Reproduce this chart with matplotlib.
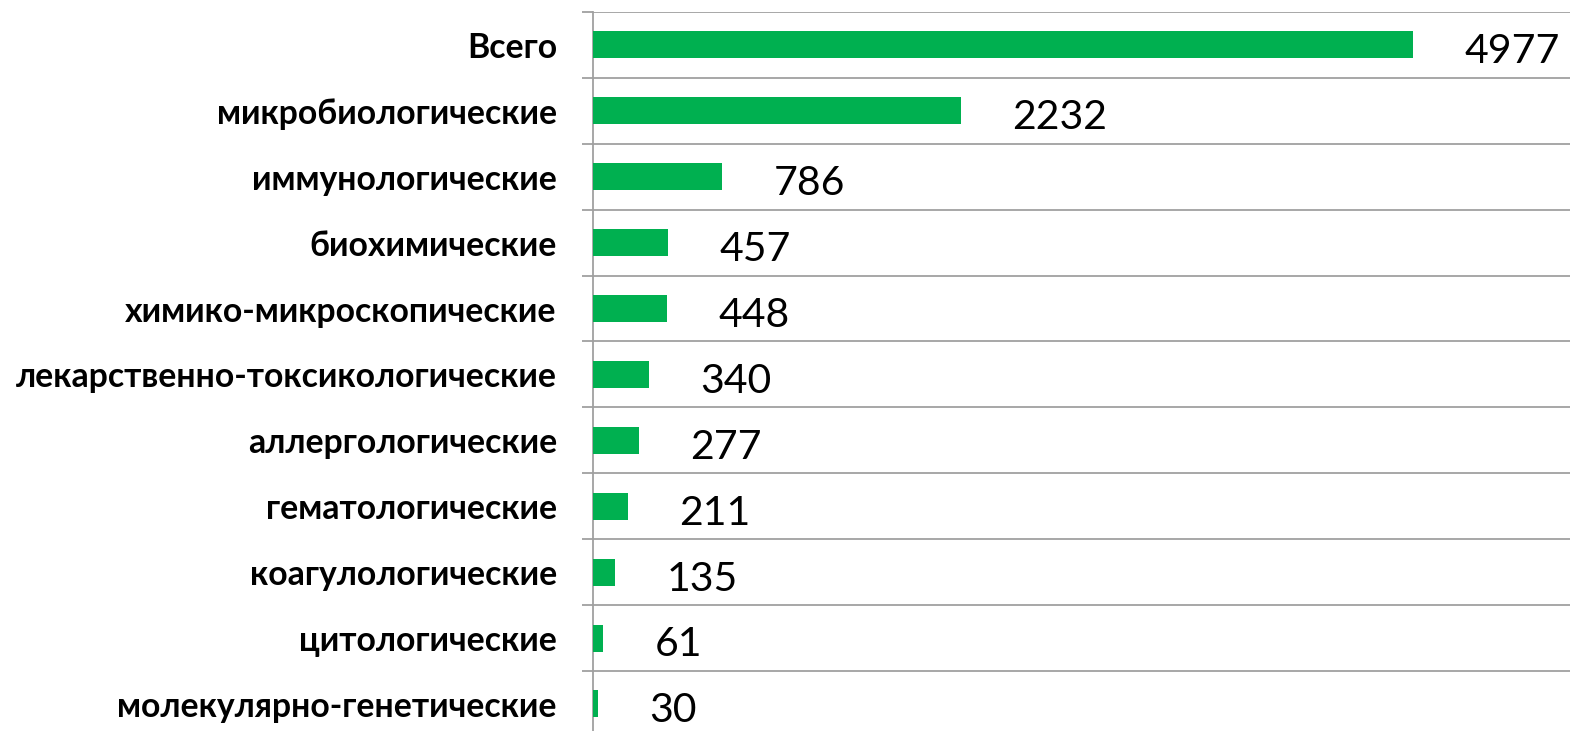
import matplotlib
matplotlib.use("Agg")
import matplotlib.pyplot as plt
import numpy as np

categories = ["Всего", "микробиологические", "иммунологические", "биохимические",
              "химико-микроскопические", "лекарственно-токсикологические",
              "аллергологические", "гематологические", "коагулологические",
              "цитологические", "молекулярно-генетические"]
values = [4977, 2232, 786, 457, 448, 340, 277, 211, 135, 61, 30]

plt.rcParams['font.family'] = ['Lato', 'DejaVu Sans']

W, H = 1570, 731
fig = plt.figure(figsize=(W/100, H/100), dpi=100)
top_px, row_px = 12, 65.9
n = len(categories)
bottom_px = top_px + n*row_px
ax = fig.add_axes([593/W, 1 - bottom_px/H, 1 - 593/W, (bottom_px - top_px)/H])

y = np.arange(n)
ax.barh(y, values, height=0.41, color='#00B050', zorder=3)
ax.set_ylim(n - 0.5, -0.5)
ax.set_xlim(0, 5930)

ax.set_yticks(y)
ax.set_yticklabels(categories, fontsize=24.3, fontweight='bold')
ax.tick_params(axis='y', which='major', length=0, pad=26)
ax.set_yticks(np.arange(n + 1) - 0.5, minor=True)
ax.tick_params(axis='y', which='minor', length=8, color='#A0A0A0', width=1.3)
ax.grid(True, axis='y', which='minor', color='#A0A0A0', linewidth=1.3, zorder=0)
ax.set_xticks([])
for s in ['top', 'right', 'bottom']:
    ax.spines[s].set_visible(False)
ax.spines['left'].set_color('#A0A0A0')
ax.spines['left'].set_linewidth(1.3)

for yi, v in zip(y, values):
    ax.annotate(str(v), xy=(v, yi), xytext=(37, -5), textcoords='offset points',
                ha='left', va='center', fontsize=29.5, color='#000000')

fig.savefig("out.png", dpi=100)
